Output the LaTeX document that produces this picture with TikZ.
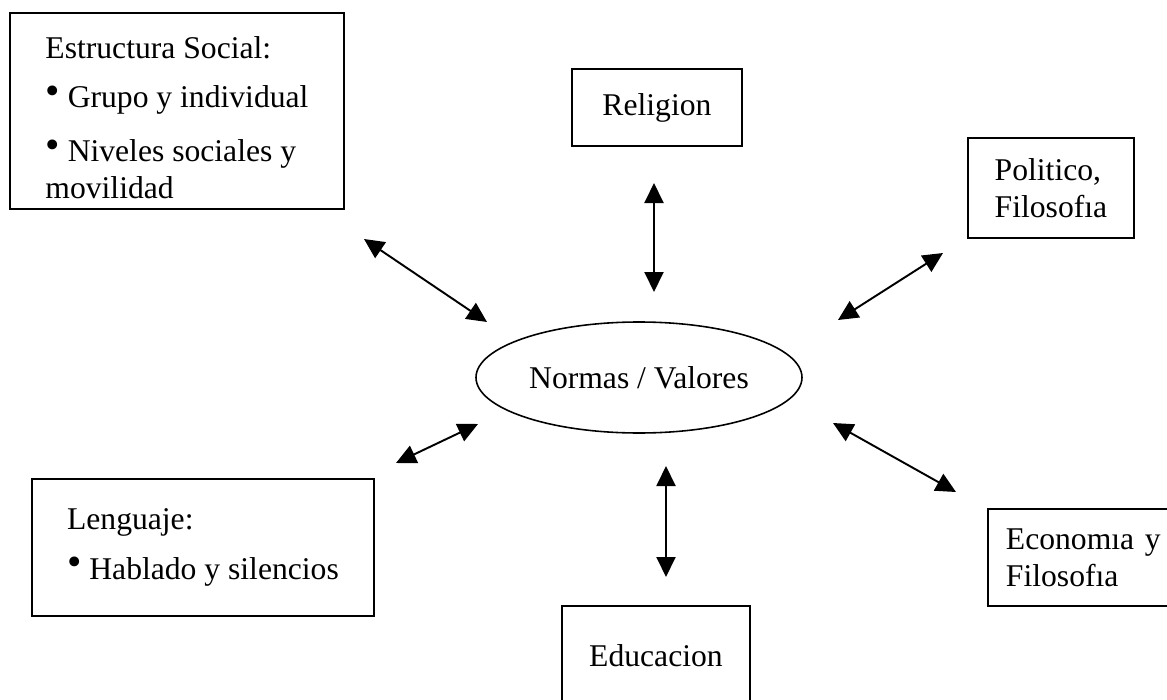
\documentclass[tikz,border=0pt]{standalone}
\usepackage{fontspec}
\setmainfont{Liberation Serif}
\usetikzlibrary{arrows.meta, shapes.geometric}
\newcommand{\bulletmark}{\raisebox{0.1em}{\scalebox{1.3}{\textbullet}}\ }

\begin{document}
\begin{tikzpicture}[
	font=\fontsize{18}{21}\selectfont,
	>={Triangle[length=0.4cm, width=0.38cm]},
	% Style for the boxes round the centre
	box/.style={rectangle, draw, line width=1.1pt, anchor=north west},
	% Style for the double arrows
	link/.style={<->, line width=1.1pt}
	]
	
	\useasboundingbox (0,0) rectangle (23.34,-14);
	
	% 1. Centre ellipse
	\node[ellipse, draw, line width=0.9pt, minimum width=6.52cm, minimum height=2.22cm, inner sep=0pt] (core) at (12.78,-7.55) {Normas / Valores};
	
	% 2. Boxes round it
	\node[box, minimum width=6.68cm, minimum height=3.92cm, align=left] (social) at (0.18,-0.24)
	{\rule{0pt}{20pt}Estructura Social:\\[7pt]\bulletmark Grupo y individual\\[10pt]\bulletmark Niveles sociales y\\movilidad};
	\node[box, minimum width=3.4cm, minimum height=1.54cm, align=center] (religion) at (11.42,-1.36) {Religion};
	\node[box, minimum width=3.32cm, minimum height=2cm, align=left] (politico) at (19.34,-2.74) {Politico,\\Filosof\i{}a};
	\node[box, minimum width=6.84cm, minimum height=2.74cm, align=left] (lenguaje) at (0.62,-9.56)
	{Lenguaje:\\[7pt]\bulletmark Hablado y silencios};
	\node[box, minimum width=3.76cm, minimum height=2cm, align=center] (educacion) at (11.22,-12.1) {Educacion};
	\node[box, text width=6cm, inner xsep=0.36cm, minimum height=1.94cm, align=left] (economia) at (19.74,-10.16) {Econom\i{}a y\\Filosof\i{}a};
	
	% 3. Arrow ends
	\coordinate (social_a) at (7.28,-4.78);
	\coordinate (social_b) at (9.74,-6.44);
	\coordinate (religion_a) at (13.08,-3.66);
	\coordinate (religion_b) at (13.08,-5.84);
	\coordinate (politico_a) at (18.86,-5.06);
	\coordinate (politico_b) at (16.76,-6.40);
	\coordinate (lenguaje_a) at (7.92,-9.26);
	\coordinate (lenguaje_b) at (9.56,-8.48);
	\coordinate (educacion_a) at (13.32,-11.54);
	\coordinate (educacion_b) at (13.32,-9.32);
	\coordinate (economia_a) at (19.12,-9.84);
	\coordinate (economia_b) at (16.66,-8.46);
	
	% 4. Double arrows
	\draw[link] (social_a) -- (social_b);
	\draw[link] (religion_a) -- (religion_b);
	\draw[link] (politico_a) -- (politico_b);
	\draw[link] (lenguaje_a) -- (lenguaje_b);
	\draw[link] (educacion_a) -- (educacion_b);
	\draw[link] (economia_a) -- (economia_b);
	
\end{tikzpicture}
\end{document}
